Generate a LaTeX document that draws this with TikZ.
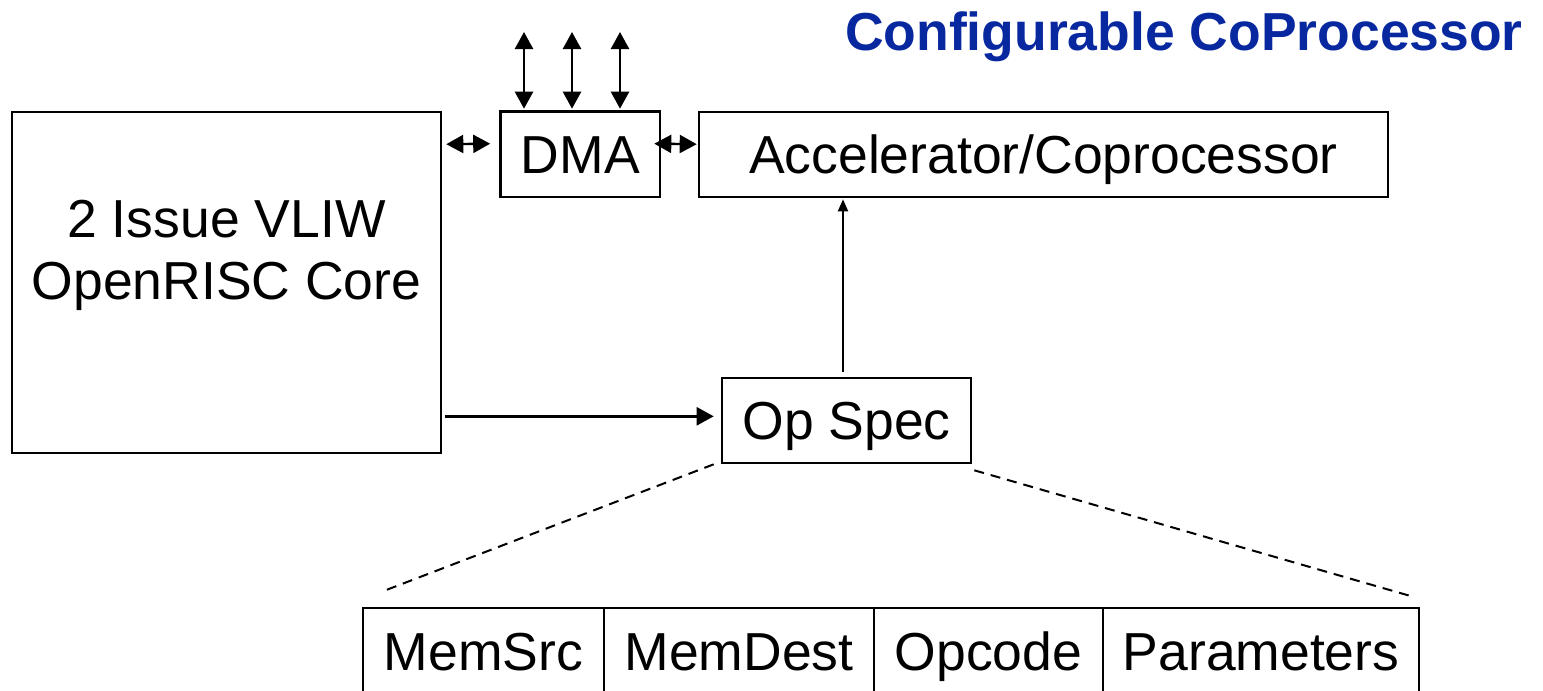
\documentclass[tikz,border=0pt]{standalone}
\usepackage{fontspec}
\setmainfont{Liberation Sans}
\usetikzlibrary{arrows.meta,calc}
\definecolor{titleblue}{RGB}{8,40,160}

\begin{document}
\begin{tikzpicture}[x=1pt,y=-1pt,
  box/.style={draw, line width=2.6pt, inner sep=0pt,
    font=\fontsize{53.5}{55}\selectfont, text height=38pt, text depth=0pt},
  link/.style={line width=2.4pt, -{Triangle[length=17pt,width=18pt]}},
  thinlink/.style={line width=2pt, -{Triangle[length=12pt,width=10pt]}},
  dbl/.style={line width=2.4pt,
    {Triangle[length=17pt,width=18pt]}-{Triangle[length=17pt,width=18pt]}},
  zoomline/.style={line width=2pt, dash pattern=on 10pt off 7pt},
]
\useasboundingbox (0,0) rectangle (1543,691);

% title
\node[anchor=base east, inner sep=0pt, text=titleblue,
  font=\bfseries\fontsize{53.5}{55}\selectfont] (title) at (1523,50) {Configurable CoProcessor};

% main blocks
\node[box, minimum width=429pt, minimum height=341pt] (vliw) at (226.5,282.5) {};
\node[anchor=north, inner sep=0pt, align=center,
  font=\fontsize{53.5}{62}\selectfont] (vliwtxt) at (226.5,200) {2 Issue VLIW\\OpenRISC Core};
\node[box, minimum width=159.5pt, minimum height=85.5pt] (dma) at (580.25,154.25) {DMA};
\node[box, minimum width=689pt, minimum height=85pt] (accel) at (1043.5,154.5) {Accelerator/Coprocessor};
\node[box, minimum width=249pt, minimum height=85pt] (opspec) at (846.5,420.5) {Op Spec};

% instruction fields (run off the lower edge)
\begin{scope}
  \clip (0,0) rectangle (1543,691);
  \node[box, minimum width=241pt, minimum height=86pt] (memsrc) at (483.5,651) {MemSrc};
  \node[box, minimum width=270pt, minimum height=86pt] (memdest) at (739,651) {MemDest};
  \node[box, minimum width=229pt, minimum height=86pt] (opcode) at (988.5,651) {Opcode};
  \node[box, minimum width=316pt, minimum height=86pt] (params) at (1261,651) {Parameters};
\end{scope}

% external DMA ports
\coordinate (p1) at (524,32);
\coordinate (p2) at (572,32);
\coordinate (p3) at (620,32);
\foreach \p in {p1,p2,p3}
  \draw[dbl] (\p) -- ([yshift=1.5pt]\p |- dma.north);

% bidirectional links
\draw[dbl] ($(vliw.north east)+(4,33.5)$) -- ($(dma.north west)+(-9,33.5)$);
\draw[dbl] ($(dma.north east)+(-7,33.5)$) -- ($(accel.north west)+(-1,33.5)$);

% core to op spec, op spec to accelerator
\coordinate (cv) at ($(vliw.south east)+(3,-38)$);
\draw[link] (cv) -- ([xshift=-7pt]cv -| opspec.west);
\coordinate (ou) at ($(opspec.north)+(-3.5,-5)$);
\draw[thinlink] (ou) -- ([yshift=-1pt]ou |- accel.south);

% expansion of the op spec
\coordinate (dl) at (381,592);
\coordinate (dr) at (1414,597);
\draw[zoomline] ($(opspec.south west)+(-7,0)$) -- (dl);
\draw[zoomline] ($(opspec.south east)+(2,6)$) -- (dr);
\end{tikzpicture}
\end{document}
